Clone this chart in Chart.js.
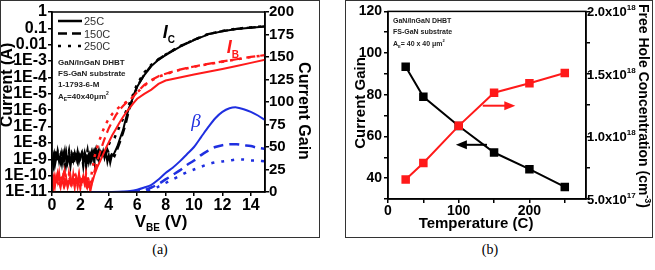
<!DOCTYPE html>
<html>
<head>
<meta charset="utf-8">
<script src="https://cdn.jsdelivr.net/npm/chart.js@4.4.1/dist/chart.umd.min.js"></script>
<style>
body{margin:0;background:#fff;width:655px;height:270px;position:relative;overflow:hidden}
.frame{position:absolute;top:0;height:238px;border:1px solid #333;box-sizing:border-box}
.frame canvas{display:block}
#fa{left:0;width:320px}
#fb{left:345px;width:308px}
.cap{position:absolute;top:242px;width:40px;text-align:center;font:14px "Liberation Serif",serif;color:#000}
</style>
</head>
<body>
<div class="frame" id="fa"><canvas id="chartA" width="318" height="236"></canvas></div>
<div class="frame" id="fb"><canvas id="chartB" width="306" height="236"></canvas></div>
<div class="cap" style="left:140px">(a)</div>
<div class="cap" style="left:470px">(b)</div>
<script>
// ---- (a) Gummel plot data ----
const vIc = [0,0.1,0.2,0.3,0.4,0.5,0.6,0.7,0.8,0.9,1,1.1,1.2,1.3,1.4,1.5,1.6,1.7,1.8,1.9,2,2.1,2.2,2.3,2.4,2.5,2.6,2.7,2.8,2.9,3,3.1,3.2,3.3,3.4,3.5,3.6,3.7,3.8,3.9,4,4.1,4.2,
  4.4,4.6,4.8,5,5.2,5.4,5.6,5.8,6,6.5,7,7.5,8,9,10,11,12,13,14,15];
const ic25 = [5e-10,1.6e-9,4e-10,1.2e-9,2.5e-9,7e-10,1.8e-9,5e-10,2.2e-9,9e-10,2.8e-9,6e-10,1.5e-9,3.5e-10,1.9e-9,8e-10,2.4e-9,1e-9,3e-9,7e-10,1.7e-9,2.6e-9,6e-10,2e-9,3e-10,1.4e-9,2.2e-9,8e-10,2.7e-9,1.1e-9,3e-9,1.3e-9,2.5e-9,9e-10,2.8e-9,1.6e-9,3.2e-9,1.2e-9,2.6e-9,7e-10,1.8e-9,6e-10,1.5e-9,
  2.5e-9,6e-9,2e-8,6e-8,3e-7,1.2e-6,3.5e-6,1e-5,2.7e-5,1.4e-4,5e-4,1.2e-3,2.3e-3,7.5e-3,1.9e-2,4.3e-2,6.6e-2,9e-2,0.11,0.13];
const ic150 = [1.2e-9,4e-10,2e-9,8e-10,3.2e-9,1.1e-9,6e-10,2.4e-9,1e-9,3e-9,5e-10,1.7e-9,2.6e-9,9e-10,2.2e-9,4.5e-10,1.6e-9,3.3e-9,8e-10,2.1e-9,1.2e-9,3.5e-9,9e-10,2.5e-9,1.4e-9,5e-10,1.9e-9,3.1e-9,1e-9,2.3e-9,6e-10,2.9e-9,1.5e-9,3.4e-9,1.1e-9,2.4e-9,1.8e-9,3.6e-9,2e-9,4e-9,2.5e-9,1.4e-9,2e-9,
  1.5e-9,4e-9,1.2e-8,4e-8,1.5e-7,8e-7,3e-6,1e-5,3e-5,1.5e-4,5.5e-4,1.3e-3,2.5e-3,8e-3,2e-2,4.5e-2,6.8e-2,9.2e-2,0.112,0.132];
const ic250 = [8e-10,2.2e-9,1e-9,3e-9,6e-10,1.8e-9,2.8e-9,9e-10,1.5e-9,4e-10,2.4e-9,1.2e-9,3.2e-9,7e-10,2e-9,1.1e-9,2.9e-9,6e-10,1.6e-9,2.5e-9,1e-9,2e-9,4.5e-10,2.7e-9,1.3e-9,3.4e-9,8e-10,2e-9,1.2e-9,3e-9,1.7e-9,3.8e-9,1.4e-9,2.6e-9,2e-9,3.5e-9,2.2e-9,2.8e-9,3e-9,5e-9,8e-9,1.2e-8,1.5e-8,
  2e-8,5e-8,1.2e-7,3e-7,8e-7,2e-6,5e-6,1.5e-5,4e-5,2e-4,6e-4,1.3e-3,2.5e-3,8e-3,2e-2,4.5e-2,7e-2,9.5e-2,0.115,0.135];

const vIb = [0,0.1,0.2,0.3,0.4,0.5,0.6,0.7,0.8,0.9,1,1.1,1.2,1.3,1.4,1.5,1.6,1.7,1.8,1.9,2,2.1,2.2,2.3,2.4,2.5,2.6,
  2.7,2.8,3,3.2,3.4,3.6,3.8,4,4.25,4.5,4.75,5,5.25,5.5,5.75,6,6.5,7,7.5,8,9,10,11,12,13,14,15];
const ib25 = [3e-11,6e-11,2e-11,9e-11,4e-11,1.5e-10,2.5e-11,5e-11,1.2e-10,3e-11,7e-11,2e-11,4e-11,1e-10,3e-11,6e-11,1.8e-11,8e-11,3.5e-11,1.3e-10,2.5e-11,5e-11,9e-11,3e-11,6e-11,2e-11,4e-11,
  1.1e-11,3e-11,1.2e-10,3.5e-10,8e-10,2e-9,5e-9,1.1e-8,3e-8,7e-8,1.7e-7,3.8e-7,8e-7,1.5e-6,2.8e-6,5e-6,1e-5,1.8e-5,4e-5,6.5e-5,1e-4,1.5e-4,2.2e-4,3.3e-4,5e-4,7.8e-4,1.2e-3];
const ib150 = [5e-11,2e-11,8e-11,3e-11,1.2e-10,4e-11,2e-11,7e-11,3e-11,1.6e-10,5e-11,2.5e-11,9e-11,4e-11,2e-11,1.1e-10,3e-11,6e-11,2.2e-11,1e-10,4.5e-11,2e-11,7e-11,3e-11,1.4e-10,5e-11,2e-11,
  1.5e-11,4e-11,2e-10,8e-10,3e-9,1e-8,3e-8,8e-8,2e-7,5e-7,1e-6,1.8e-6,3e-6,4.5e-6,7e-6,1.3e-5,3.5e-5,7e-5,1.2e-4,1.7e-4,3e-4,4.7e-4,6.8e-4,9.5e-4,1.3e-3,1.8e-3,2.3e-3];
const ib250 = [2e-11,7e-11,3e-11,1.1e-10,5e-11,2.5e-11,9e-11,4e-11,1.8e-10,3e-11,6e-11,2e-11,1.2e-10,4e-11,8e-11,2.5e-11,1.5e-10,5e-11,3e-11,9e-11,2e-11,6e-11,1.2e-10,4e-11,2.5e-11,8e-11,3e-11,
  3e-11,1.5e-10,1.5e-9,6e-9,2e-8,6e-8,1.5e-7,3e-7,6e-7,1e-6,1.6e-6,2.3e-6,3.2e-6,4.5e-6,7e-6,1.2e-5,3.2e-5,6.5e-5,1.1e-4,1.6e-4,2.9e-4,4.5e-4,6.5e-4,9e-4,1.25e-3,1.75e-3,2.3e-3];

const vBeta = [2.7,4,5,5.5,6,6.5,7,7.5,8,8.5,9,9.5,10,10.5,11,11.5,12,12.5,13,13.5,14,14.5,15];
const beta25 = [0,0,0.5,1,2.5,5,8,14,21,27,34,42,50,61,72,82,89,93,94,92,89,85,80];
const beta150 = [null,null,null,0,0.5,2,5,9,14,19,24,30,35,41,46,50,52,53,53,52,51,49,48];
const beta250 = [null,null,null,null,0,1,3,6,10,14,18,22,25,28,31,33,34,35,36,36,35,35,34];

const vTicksA = [0,2,4,6,8,10,12,14];
const iTicksA = [1,0.1,0.01,1e-3,1e-4,1e-5,1e-6,1e-7,1e-8,1e-9,1e-10,1e-11];
const iLabelsA = ['1','0.1','0.01','1E-3','1E-4','1E-5','1E-6','1E-7','1E-8','1E-9','1E-10','1E-11'];
const gainTicksA = [0,25,50,75,100,125,150,175,200];
const legendA = ['25C','150C','250C'];
const noteA = ['GaN/InGaN DHBT','FS-GaN substrate','1-1793-6-M'];

// ---- (b) temperature data ----
const temps = [25,50,100,150,200,250];
const gainB = [93.5,79,65,52.3,44.3,35.8];
const holeConc = [6.56e17,7.88e17,1.085e18,1.35e18,1.426e18,1.508e18];
const tempTicks = [0,50,100,150,200,250];
const tempLabels = ['0','','100','','200',''];
const gainTicksB = [30,40,50,60,70,80,90,100,110,120];
const gainLabelsB = ['','40','','60','','80','','100','','120'];
const concTicks = [5e17,7.5e17,1e18,1.25e18,1.5e18,1.75e18,2e18];
const concVals = [5e17,1e18,1.5e18,2e18];
const concBase = ['5.0x10','1.0x10','1.5x10','2.0x10'];
const concExp = ['17','18','18','18'];
const noteB = ['GaN/InGaN DHBT','FS-GaN substrate'];

Chart.defaults.font.family = 'Liberation Sans';
Chart.defaults.color = '#000';

const RED = '#ff1a1a', BLUE = '#1f2fe0';
const pts = (xs, ys) => xs.map((x, i) => ({x: x, y: ys[i]}));

function rich(ctx, x, y, parts, align) {
  let w = 0;
  parts.forEach(p => { ctx.font = p.f; w += ctx.measureText(p.t).width; });
  let cx = align === 'center' ? x - w / 2 : x;
  ctx.textAlign = 'left';
  ctx.textBaseline = 'alphabetic';
  parts.forEach(p => {
    ctx.font = p.f;
    ctx.fillText(p.t, cx, y + (p.dy || 0));
    cx += ctx.measureText(p.t).width;
  });
}

function rotText(ctx, x, y, ang, parts, align) {
  ctx.save();
  ctx.translate(x, y);
  ctx.rotate(ang);
  rich(ctx, 0, 0, parts, align);
  ctx.restore();
}

function axisCfg(extra) {
  return Object.assign({
    grid: {drawOnChartArea: false, tickLength: 4, color: '#000', lineWidth: 1.5},
    border: {color: '#000', width: 1.5}
  }, extra);
}

const decorA = {
  id: 'decorA',
  afterDraw(chart) {
    const ctx = chart.ctx, a = chart.chartArea;
    const sx = chart.scales.x, sy = chart.scales.y, sg = chart.scales.y2;
    ctx.save();
    ctx.strokeStyle = '#000';
    ctx.lineWidth = 1.5;
    ctx.strokeRect(a.left, a.top, a.right - a.left, a.bottom - a.top);

    // legend
    const dashes = [[], [9, 5], [3, 7]];
    legendA.forEach((lab, i) => {
      const y = a.top + 9 + i * 12.5;
      ctx.setLineDash(dashes[i]);
      ctx.lineWidth = 2.5;
      ctx.beginPath();
      ctx.moveTo(a.left + 6, y);
      ctx.lineTo(a.left + 30, y);
      ctx.stroke();
      ctx.setLineDash([]);
      ctx.fillStyle = '#333';
      rich(ctx, a.left + 32, y + 4, [{t: lab, f: '11px Liberation Sans'}]);
    });

    // sample notes
    ctx.fillStyle = '#222';
    noteA.forEach((s, i) => rich(ctx, a.left + 6, a.top + 53 + i * 11, [{t: s, f: 'bold 8px Liberation Sans'}]));
    rich(ctx, a.left + 6, a.top + 87, [
      {t: 'A', f: 'bold 8px Liberation Sans'},
      {t: 'E', f: 'bold 5px Liberation Sans', dy: 2},
      {t: '=40x40\u03bcm', f: 'bold 8px Liberation Sans'},
      {t: '2', f: 'bold 5px Liberation Sans', dy: -4}
    ]);

    // curve labels
    ctx.fillStyle = '#000';
    rich(ctx, sx.getPixelForValue(7.8), sy.getPixelForValue(2.5e-2), [
      {t: 'I', f: 'italic bold 18px Liberation Sans'},
      {t: 'C', f: 'bold 10px Liberation Sans', dy: 5}
    ]);
    ctx.fillStyle = RED;
    rich(ctx, sx.getPixelForValue(12.3), sy.getPixelForValue(3.2e-3), [
      {t: 'I', f: 'italic bold 18px Liberation Sans'},
      {t: 'B', f: 'bold 10px Liberation Sans', dy: 5}
    ]);
    ctx.fillStyle = BLUE;
    rich(ctx, sx.getPixelForValue(9.8), sg.getPixelForValue(72), [{t: '\u03b2', f: 'italic 19px Liberation Serif'}]);

    // axis titles
    ctx.fillStyle = '#000';
    rotText(ctx, 11, 84, -Math.PI / 2, [{t: 'Current (A)', f: 'bold 16px Liberation Sans'}], 'center');
    rotText(ctx, 298, 110, Math.PI / 2, [{t: 'Current Gain', f: 'bold 16px Liberation Sans'}], 'center');
    rich(ctx, 160, 226, [
      {t: 'V', f: 'bold 17px Liberation Sans'},
      {t: 'BE', f: 'bold 10px Liberation Sans', dy: 4},
      {t: ' (V)', f: 'bold 17px Liberation Sans'}
    ], 'center');
    ctx.restore();
  }
};

const decorB = {
  id: 'decorB',
  afterDraw(chart) {
    const ctx = chart.ctx, a = chart.chartArea;
    const sx = chart.scales.x, sy = chart.scales.y, sc = chart.scales.y2;
    ctx.save();
    ctx.strokeStyle = '#000';
    ctx.lineWidth = 1.5;
    ctx.strokeRect(a.left, a.top, a.right - a.left, a.bottom - a.top);

    // notes
    ctx.fillStyle = '#222';
    noteB.forEach((s, i) => rich(ctx, a.left + 5, a.top + 12 + i * 11, [{t: s, f: 'bold 7px Liberation Sans'}]));
    rich(ctx, a.left + 5, a.top + 35, [
      {t: 'A', f: 'bold 7px Liberation Sans'},
      {t: 'E', f: 'bold 4px Liberation Sans', dy: 2},
      {t: '= 40 x 40 \u03bcm', f: 'bold 7px Liberation Sans'},
      {t: '2', f: 'bold 4px Liberation Sans', dy: -4}
    ]);

    // arrows
    function arrow(x0, x1, y, color) {
      ctx.strokeStyle = color;
      ctx.fillStyle = color;
      ctx.lineWidth = 2;
      const dir = Math.sign(x1 - x0);
      ctx.beginPath();
      ctx.moveTo(x0, y);
      ctx.lineTo(x1 - dir * 8, y);
      ctx.stroke();
      ctx.beginPath();
      ctx.moveTo(x1, y);
      ctx.lineTo(x1 - dir * 11, y - 4.5);
      ctx.lineTo(x1 - dir * 11, y + 4.5);
      ctx.closePath();
      ctx.fill();
    }
    arrow(sx.getPixelForValue(134), sx.getPixelForValue(180), sc.getPixelForValue(1.246e18), RED);
    arrow(sx.getPixelForValue(140), sx.getPixelForValue(96), sy.getPixelForValue(56), '#000');

    // right axis labels with exponents
    ctx.fillStyle = '#000';
    concVals.forEach((v, i) => {
      rich(ctx, a.right + 1, sc.getPixelForValue(v) + 5, [
        {t: concBase[i], f: 'bold 13px Liberation Sans'},
        {t: concExp[i], f: 'bold 8px Liberation Sans', dy: -6}
      ]);
    });

    // axis titles
    rotText(ctx, 19, 102, -Math.PI / 2, [{t: 'Current Gain', f: 'bold 15px Liberation Sans'}], 'center');
    rotText(ctx, 293, 3, Math.PI / 2, [
      {t: 'Free Hole Concentration (cm', f: 'bold 14px Liberation Sans'},
      {t: '-3', f: 'bold 9px Liberation Sans', dy: -6},
      {t: ')', f: 'bold 14px Liberation Sans'}
    ]);
    rich(ctx, 130, 227, [{t: 'Temperature (C)', f: 'bold 15px Liberation Sans'}], 'center');
    ctx.restore();
  }
};

new Chart(document.getElementById('chartA'), {
  type: 'line',
  data: {
    datasets: [
      {data: pts(vIb, ib25), borderColor: RED, borderWidth: 2, yAxisID: 'y'},
      {data: pts(vIb, ib150), borderColor: RED, borderWidth: 2.2, borderDash: [9, 5], yAxisID: 'y'},
      {data: pts(vIb, ib250), borderColor: RED, borderWidth: 2.5, borderDash: [3, 6], yAxisID: 'y'},
      {data: pts(vIc, ic25), borderColor: '#000', borderWidth: 2, yAxisID: 'y'},
      {data: pts(vIc, ic150), borderColor: '#000', borderWidth: 2.2, borderDash: [9, 5], yAxisID: 'y'},
      {data: pts(vIc, ic250), borderColor: '#000', borderWidth: 2.5, borderDash: [3, 6], yAxisID: 'y'},
      {data: pts(vBeta, beta25), borderColor: BLUE, borderWidth: 2, tension: 0.3, yAxisID: 'y2'},
      {data: pts(vBeta, beta150), borderColor: BLUE, borderWidth: 2.5, borderDash: [10, 6], tension: 0.3, yAxisID: 'y2'},
      {data: pts(vBeta, beta250), borderColor: BLUE, borderWidth: 2.5, borderDash: [3, 7], tension: 0.3, yAxisID: 'y2'}
    ]
  },
  options: {
    responsive: false,
    animation: false,
    devicePixelRatio: 1,
    layout: {padding: {top: 11, left: 0, right: 0, bottom: 0}},
    elements: {point: {radius: 0}, line: {fill: false}},
    plugins: {legend: {display: false}, tooltip: {enabled: false}},
    scales: {
      x: axisCfg({
        type: 'linear', min: 0, max: 15,
        afterBuildTicks: s => { s.ticks = vTicksA.map(v => ({value: v})); },
        ticks: {font: {size: 16, weight: 'bold'}, padding: 0, autoSkip: false, maxRotation: 0},
        afterFit: s => { s.height = 45; }
      }),
      y: axisCfg({
        type: 'logarithmic', min: 1e-11, max: 1,
        afterBuildTicks: s => { s.ticks = iTicksA.map(v => ({value: v})); },
        ticks: {font: {size: 16, weight: 'bold'}, padding: 1, autoSkip: false,
          callback: v => iLabelsA[iTicksA.indexOf(v)]},
        afterFit: s => { s.width = 51; }
      }),
      y2: axisCfg({
        type: 'linear', position: 'right', min: 0, max: 200,
        afterBuildTicks: s => { s.ticks = gainTicksA.map(v => ({value: v})); },
        ticks: {font: {size: 15, weight: 'bold'}, padding: 0, autoSkip: false},
        afterFit: s => { s.width = 54; }
      })
    }
  },
  plugins: [decorA]
});

new Chart(document.getElementById('chartB'), {
  type: 'line',
  data: {
    labels: temps,
    datasets: [
      {data: pts(temps, holeConc), borderColor: RED, backgroundColor: RED, borderWidth: 2,
        pointStyle: 'rect', pointRadius: 4.6, yAxisID: 'y2'},
      {data: pts(temps, gainB), borderColor: '#000', backgroundColor: '#000', borderWidth: 2,
        pointStyle: 'rect', pointRadius: 4.6, yAxisID: 'y'}
    ]
  },
  options: {
    responsive: false,
    animation: false,
    devicePixelRatio: 1,
    layout: {padding: {top: 9, left: 0, right: 0, bottom: 0}},
    plugins: {legend: {display: false}, tooltip: {enabled: false}},
    scales: {
      x: axisCfg({
        type: 'linear', min: 0, max: 280,
        afterBuildTicks: s => { s.ticks = tempTicks.map(v => ({value: v})); },
        ticks: {font: {size: 14, weight: 'bold'}, padding: 0, autoSkip: false, maxRotation: 0,
          callback: v => tempLabels[tempTicks.indexOf(v)]},
        afterFit: s => { s.height = 38; }
      }),
      y: axisCfg({
        type: 'linear', min: 30, max: 120,
        afterBuildTicks: s => { s.ticks = gainTicksB.map(v => ({value: v})); },
        ticks: {font: {size: 14, weight: 'bold'}, padding: 2, autoSkip: false,
          callback: v => gainLabelsB[gainTicksB.indexOf(v)]},
        afterFit: s => { s.width = 42; }
      }),
      y2: axisCfg({
        type: 'linear', position: 'right', min: 5e17, max: 2e18,
        afterBuildTicks: s => { s.ticks = concTicks.map(v => ({value: v})); },
        ticks: {display: false},
        afterFit: s => { s.width = 66; }
      })
    }
  },
  plugins: [decorB]
});
</script>
</body>
</html>
